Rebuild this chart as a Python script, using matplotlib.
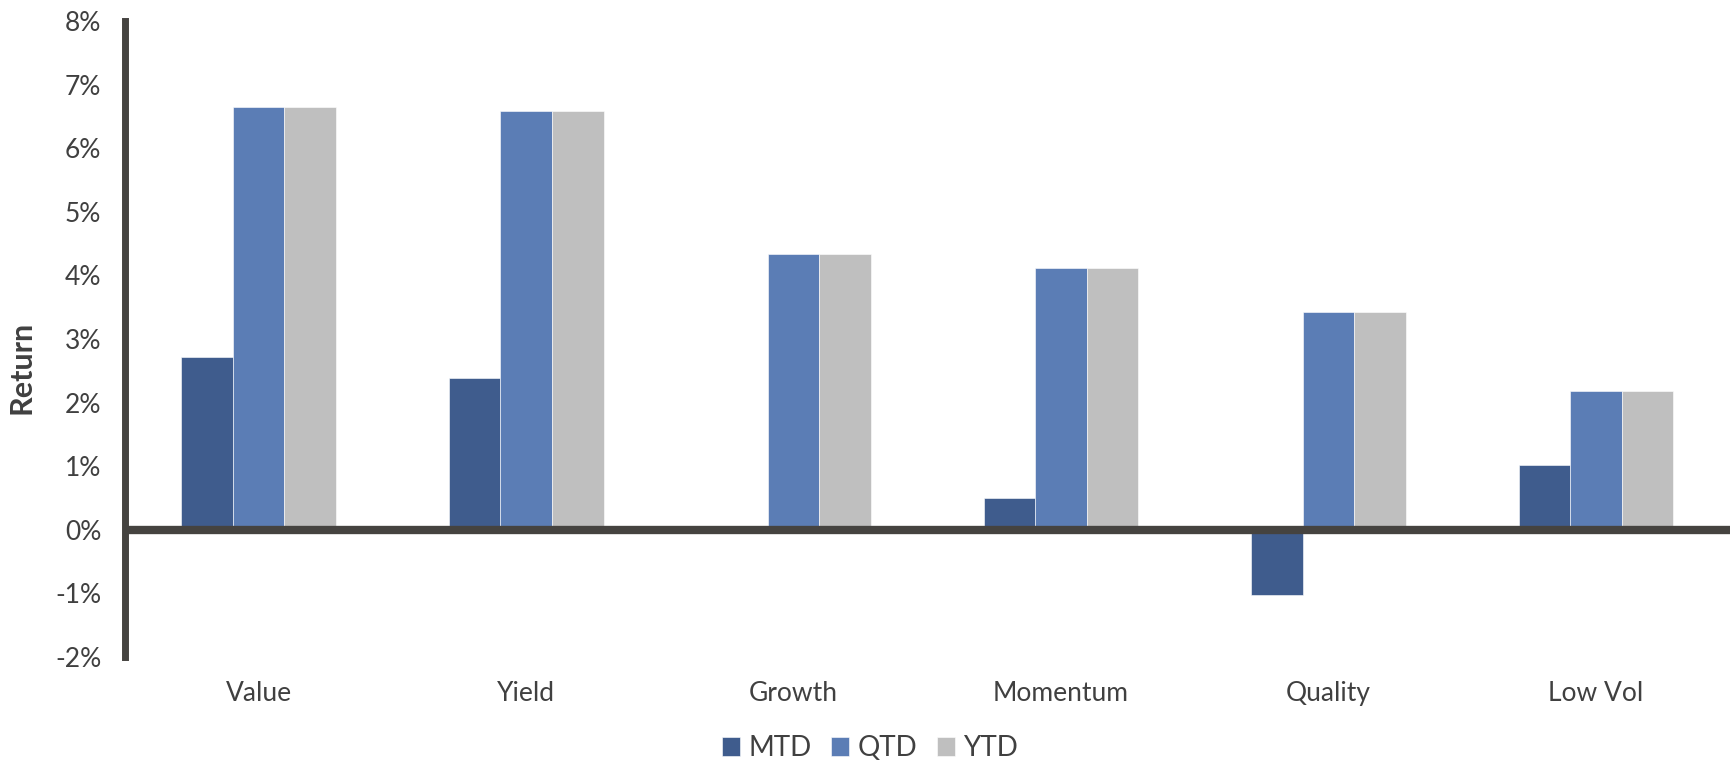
import numpy as np
import matplotlib.pyplot as plt
from matplotlib.ticker import FuncFormatter

plt.rcParams['font.family'] = ['Lato', 'DejaVu Sans']

categories = ['Value', 'Yield', 'Growth', 'Momentum', 'Quality', 'Low Vol']
mtd = [2.72, 2.39, 0.06, 0.50, -1.02, 1.02]
qtd = [6.64, 6.58, 4.34, 4.11, 3.42, 2.18]
ytd = [6.64, 6.58, 4.34, 4.11, 3.42, 2.18]
series_names = ['MTD', 'QTD', 'YTD']
colors = ['#3F5C8D', '#5B7DB5', '#BFBFBF']
text_color = '#404040'
axis_color = '#454340'

fig = plt.figure(figsize=(17.33, 7.61), dpi=100)
ax = fig.add_axes([0.0721, 0.1367, 0.926, 0.8357])

x = np.arange(len(categories))
w = 0.193
for i, (vals, name) in enumerate(zip([mtd, qtd, ytd], series_names)):
    ax.bar(x + (i - 1) * w, vals, width=w, color=colors[i], label=name,
           edgecolor='white', linewidth=0.4, zorder=2)

ax.axhline(0, color=axis_color, linewidth=6, zorder=3)
ax.set_xlim(-0.5, 5.5)
ax.set_ylim(-2, 8)
ax.set_yticks(range(-2, 9))
ax.yaxis.set_major_formatter(FuncFormatter(lambda v, p: '%d%%' % v))
ax.set_xticks(x)
ax.set_xticklabels(categories)

for s in ['top', 'right', 'bottom']:
    ax.spines[s].set_visible(False)
ax.spines['left'].set_color(axis_color)
ax.spines['left'].set_linewidth(5)
ax.tick_params(axis='both', length=0, labelsize=19, colors=text_color)
ax.tick_params(axis='y', pad=17)
ax.tick_params(axis='x', pad=17)

ax.set_ylabel('Return', fontsize=22, fontweight='bold', color=text_color)
ax.yaxis.set_label_coords(-0.056, 0.456)

fig.legend(loc='center', bbox_to_anchor=(0.502, 0.017), ncol=3, frameon=False,
           fontsize=20, handlelength=0.65, handleheight=0.65, handletextpad=0.3,
           columnspacing=0.7, labelcolor=text_color)

plt.savefig('out.png', dpi=100)
